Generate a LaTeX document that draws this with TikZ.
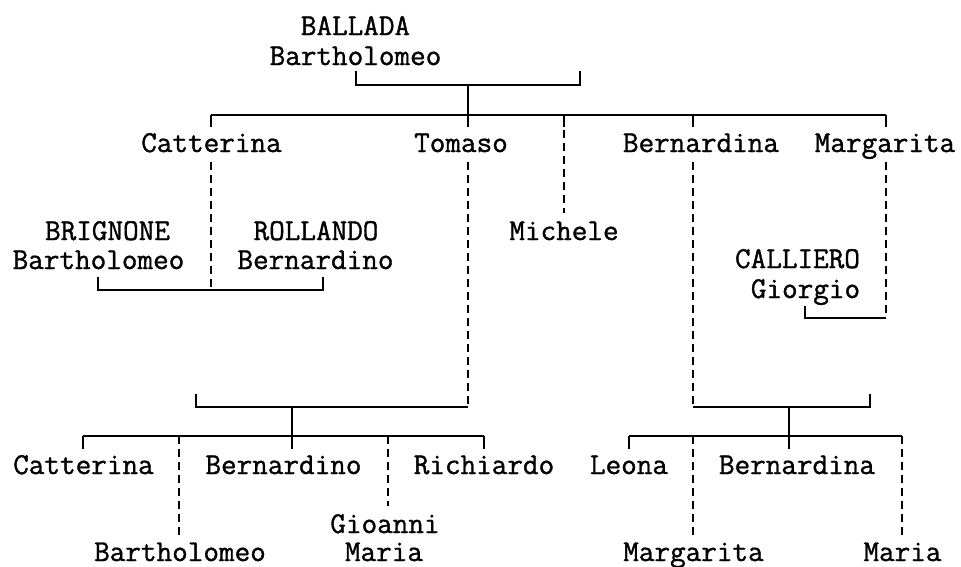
\documentclass[tikz,border=0pt]{standalone}
\usepackage{fontspec}
\newfontfamily\personfont{Latin Modern Mono}[FakeBold=1.2]
\begin{document}
\begin{tikzpicture}[x=1pt,y=-1pt,
  person/.style={anchor=base,inner sep=0pt,font=\personfont\fontsize{30.3}{30}\selectfont},
  solidline/.style={line width=1.6pt,line cap=butt},
  dashline/.style={line width=1.6pt,dash pattern=on 8pt off 5pt}]
\useasboundingbox (0,0) rectangle (961,566);
% ---- names ----
\node[person] (ballada) at (355.5,35) {BALLADA};
\node[person] (bartA) at (355.5,65) {Bartholomeo};
\node[person] (catA) at (211.5,152) {Catterina};
\node[person] (tom) at (461,152) {Tomaso};
\node[person] (bernaA) at (701,152) {Bernardina};
\node[person] (margA) at (885,152) {Margarita};
\node[person] (brig) at (107.5,240) {BRIGNONE};
\node[person] (bartB) at (98.5,269) {Bartholomeo};
\node[person] (roll) at (316,240) {ROLLANDO};
\node[person] (berniA) at (315.5,269) {Bernardino};
\node[person] (mich) at (564,240) {Michele};
\node[person] (call) at (797.5,268) {CALLIERO};
\node[person] (gior) at (805.5,298) {Giorgio};
\node[person] (catB) at (83.5,474) {Catterina};
\node[person] (berniB) at (283.5,474) {Bernardino};
\node[person] (rich) at (484,474) {Richiardo};
\node[person] (leon) at (629,474) {Leona};
\node[person] (bernaB) at (797,474) {Bernardina};
\node[person] (gioa) at (385,533) {Gioanni};
\node[person] (mariaA) at (384,561) {Maria};
\node[person] (bartC) at (180,561) {Bartholomeo};
\node[person] (margB) at (693.5,561) {Margarita};
\node[person] (mariaB) at (902.5,561) {Maria};
% ---- junction coordinates ----
\coordinate (p1) at (356,71); \coordinate (p2) at (580,71);
\coordinate (c1) at (468,85);
\coordinate (h1l) at (211,115); \coordinate (h1r) at (886,115);
\coordinate (t1) at (468,127);
\coordinate (d1) at (211,127); \coordinate (d3) at (564,127);
\coordinate (d4) at (693,127); \coordinate (d5) at (886,127);
\coordinate (m3) at (564,115); \coordinate (m4) at (693,115);
\coordinate (e1) at (211,162); \coordinate (e2) at (468,162);
\coordinate (e3) at (564,130); \coordinate (e3b) at (564,213);
\coordinate (e4) at (693,162); \coordinate (e5) at (886,162);
% Catterina marriage
\coordinate (q1) at (98,277); \coordinate (q2) at (323,277);
\coordinate (qc) at (211,290);
% Margarita marriage
\coordinate (r1) at (805,306); \coordinate (rc) at (886,318);
% Tomaso family
\coordinate (s1) at (196,394); \coordinate (sr) at (468,407);
\coordinate (sc) at (292,407); \coordinate (sh) at (292,449);
\coordinate (sl) at (83,436); \coordinate (srr) at (484,436);
\coordinate (k1) at (179,436); \coordinate (k1b) at (179,535);
\coordinate (k2) at (388,436); \coordinate (k2b) at (388,506);
% Bernardina family
\coordinate (u1) at (870,394); \coordinate (ul) at (693,407);
\coordinate (uc) at (789,407); \coordinate (uh) at (789,449);
\coordinate (vl) at (629,436); \coordinate (vr) at (902,436);
\coordinate (k3) at (693,436); \coordinate (k3b) at (693,535);
\coordinate (k4b) at (902,535);
% ---- connectors ----
\draw[solidline] (p1) -- (p1 |- c1) -- (p2 |- c1) -- (p2);
\draw[solidline] (c1) -- (t1);
\draw[solidline] (h1l) -- (h1r);
\draw[solidline] (h1l) -- (d1);
\draw[solidline] (m3) -- (d3);
\draw[solidline] (m4) -- (d4);
\draw[solidline] (h1r) -- (d5);
% dashed descent lines
\draw[dashline] (e1) -- (qc);
\draw[dashline] (e3) -- (e3b);
\draw[dashline] (e2) -- (sr);
\draw[dashline] (e4) -- (ul);
\draw[dashline] (e5) -- (rc);
% Catterina marriage bracket
\draw[solidline] (q1) -- (q1 |- qc) -- (q2 |- qc) -- (q2);
% Margarita marriage bracket
\draw[solidline] (r1) -- (r1 |- rc) -- (rc);
% Tomaso family
\draw[solidline] (s1) -- (s1 |- sr) -- (sr);
\draw[solidline] (sc) -- (sh);
\draw[solidline] (sl) -- (srr);
\draw[solidline] (sl) -- ++(0,13);
\draw[solidline] (srr) -- ++(0,13);
\draw[dashline] (k1) -- (k1b);
\draw[dashline] (k2) -- (k2b);
% Bernardina family
\draw[solidline] (ul) -- (ul -| u1) -- (u1);
\draw[solidline] (uc) -- (uh);
\draw[solidline] (vl) -- (vr);
\draw[solidline] (vl) -- ++(0,13);
\draw[dashline] (k3) -- (k3b);
\draw[dashline] (vr) -- (k4b);
\end{tikzpicture}
\end{document}
